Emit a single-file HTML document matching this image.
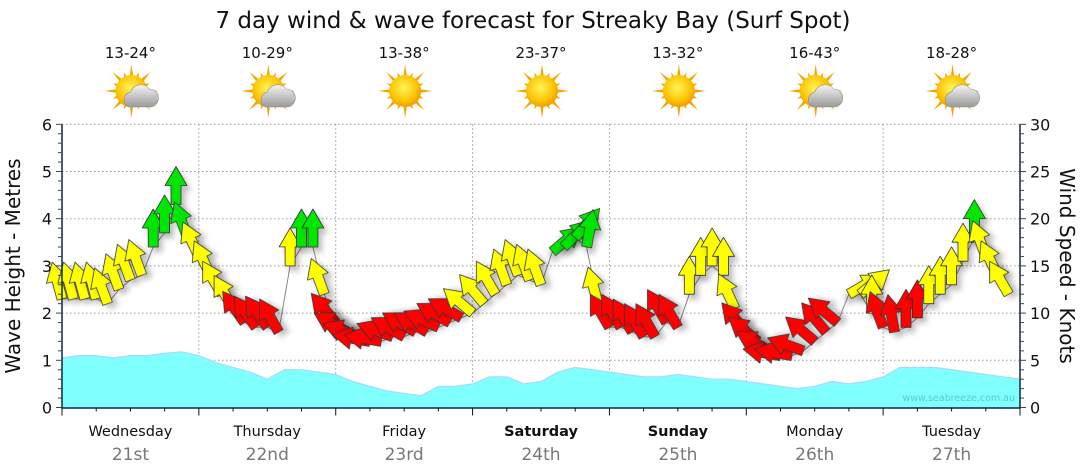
<!DOCTYPE html>
<html><head><meta charset="utf-8">
<style>
html,body{margin:0;padding:0;background:#fff;}
svg{display:block;font-family:"DejaVu Sans","Liberation Sans",sans-serif;}
</style></head>
<body>
<svg id="chart" width="1080" height="475" viewBox="0 0 1080 475" xmlns="http://www.w3.org/2000/svg">
<defs>
<filter id="sh" x="-50%" y="-50%" width="200%" height="200%"><feGaussianBlur in="SourceAlpha" stdDeviation="3"/><feOffset dx="4" dy="5"/><feComponentTransfer><feFuncA type="linear" slope="0.25"/></feComponentTransfer><feMerge><feMergeNode/><feMergeNode in="SourceGraphic"/></feMerge></filter>
<radialGradient id="sun" cx="0.45" cy="0.4" r="0.6"><stop offset="0" stop-color="#fff25a"/><stop offset="0.7" stop-color="#fbc400"/><stop offset="1" stop-color="#f39a00"/></radialGradient>
<linearGradient id="cloud" x1="0" y1="0" x2="0" y2="1"><stop offset="0" stop-color="#f4f4f4"/><stop offset="1" stop-color="#9a9a9a"/></linearGradient>
</defs>
<text x="533" y="28" text-anchor="middle" font-size="23" fill="#111">7 day wind &amp; wave forecast for Streaky Bay (Surf Spot)</text>
<g id="header"></g>
<g id="grid"></g>
<g id="wave"></g>
<text x="1015" y="401" text-anchor="end" font-size="9.5" fill="#5fc8d0">www.seabreeze.com.au</text>
<g id="wind"></g>
<g id="axes"></g>
<text transform="translate(20,266) rotate(-90)" text-anchor="middle" font-size="20" fill="#111">Wave Height - Metres</text>
<text transform="translate(1060,266) rotate(90)" text-anchor="middle" font-size="20" fill="#111">Wind Speed - Knots</text>
</svg>
<script>
const days = ["Wednesday","Thursday","Friday","Saturday","Sunday","Monday","Tuesday"];
const dates = ["21st","22nd","23rd","24th","25th","26th","27th"];
const boldDays = [false,false,false,true,true,false,false];
const temps = ["13-24°","10-29°","13-38°","23-37°","13-32°","16-43°","18-28°"];
const cloudy = [true,true,false,false,false,true,true];
const waveTicks = [0,1,2,3,4,5,6];
const windTicks = [0,5,10,15,20,25,30];
// 3-hourly wave heights (m), from Wed 00:00
const waveHeights = [1.05,1.1,1.1,1.05,1.1,1.1,1.15,1.18, 1.1,0.95,0.85,0.75,0.6,0.8,0.8,0.75, 0.7,0.55,0.45,0.35,0.3,0.25,0.45,0.45, 0.5,0.65,0.65,0.5,0.55,0.75,0.85,0.8, 0.75,0.7,0.65,0.65,0.7,0.65,0.6,0.6, 0.55,0.5,0.45,0.4,0.45,0.55,0.5,0.55, 0.65,0.85,0.85,0.85,0.8,0.75,0.7,0.65,0.6];
// 2-hourly wind speed (knots) and arrow direction (deg, 0 = up), from Wed 00:00
const windSpeed = [
 11.5,11.5,11.5,11.5,11,12.5,13.5,14,17,18.5,21.5,18,
 16,14,12,10.5,9,8.5,8.5,8,15,17,17,12,
 9,8,7.5,7,7,7.5,7.5,8,8,8.5,9,9.5,
 10,11,12,13,14,13.5,13,16.5,17,18,17,11,
 8.5,8.5,8,7.5,7.5,9,8.5,12,14,15,14,10.5,
 8,7,6,5.5,5.5,6,7,8,9,12,12,10,
 8.5,8,8.5,9.5,11,12,13,15.5,18,16,14,12];
const windDir = [
 -15,-15,-15,-15,-20,-20,-20,-20,0,0,0,-20,
 -25,-25,-30,-30,-35,-35,-35,-30,0,0,0,-20,
 -40,-60,-70,-80,-80,-70,-60,-60,-60,-65,-60,-60,
 -50,-40,-30,-20,-20,-20,-20,50,45,40,10,-15,
 -30,-30,-30,-30,-30,-30,-30,0,0,0,0,-25,
 -40,-50,-60,-80,-80,-70,-50,-40,-50,60,50,0,
 -20,-10,0,0,0,0,0,0,0,-20,-25,-30];

const NS="http://www.w3.org/2000/svg";
const X0=62,X1=1020,Y0=407.5,Y6=124.3;
const dayW=(X1-X0)/7;
const xH=h=>X0+h*dayW/24;
const yM=m=>Y0-m*(Y0-Y6)/6;
const yK=k=>yM(k/5);
function mk(tag,attrs,parent){const e=document.createElementNS(NS,tag);for(const k in attrs)e.setAttribute(k,attrs[k]);parent.appendChild(e);return e;}
const G=id=>document.getElementById(id);

// header
days.forEach((d,i)=>{
  const cx=X0+dayW*(i+0.5);
  const t=mk('text',{x:cx,y:58,'text-anchor':'middle','font-size':15,fill:'#111'},G('header'));t.textContent=temps[i];
  
  
  const g=mk('g',{transform:`translate(${cx+1},91)`},G('header'));
  
  
  for(let a=0;a<16;a++){const ang=a*Math.PI/8;const r=a%2?20:27;
    mk('polygon',{points:`${Math.cos(ang-0.13)*14},${Math.sin(ang-0.13)*14} ${Math.cos(ang)*r},${Math.sin(ang)*r} ${Math.cos(ang+0.13)*14},${Math.sin(ang+0.13)*14}`,fill:'#f5a400'},g);}
  mk('circle',{cx:0,cy:0,r:16,fill:'url(#sun)'},g);
  if(cloudy[i]){
    const c=mk('g',{fill:'url(#cloud)',stroke:'#8a8a8a','stroke-width':0.6},g);
    mk('path',{d:'M-3,16 a8,8 0 0 1 2,-15 a11,11 0 0 1 19,-3 a9,9 0 0 1 9,9 a9,9 0 0 1 -8,9 z'},c);
  }
});

// grid
for(let m=1;m<=6;m++){const l=mk('line',{x1:X0,x2:X1,y1:yM(m),y2:yM(m),stroke:'#999','stroke-dasharray':'1.5,2.5','stroke-width':1},G('grid'));
  
  }
for(let i=1;i<7;i++){const x=X0+dayW*i;const l=mk('line',{x1:x,x2:x,y1:Y6,y2:Y0,stroke:'#999','stroke-dasharray':'1.5,2.5','stroke-width':1},G('grid'));
  
  }

// wave area
let d=`M${X0},${Y0}`;
waveHeights.forEach((v,i)=>{d+=` L${xH(i*3).toFixed(1)},${yM(v).toFixed(1)}`;});
d+=` L${xH((waveHeights.length-1)*3).toFixed(1)},${Y0} Z`;
const wa=mk('path',{d:d,fill:'#80ffff',stroke:'#a8d8ff','stroke-width':1.2},G('wave'));



// wind
let pl='';
windSpeed.forEach((k,i)=>{pl+=`${xH(i*2).toFixed(1)},${yK(k).toFixed(1)} `;});
const line=mk('polyline',{points:pl,fill:'none',stroke:'#888','stroke-width':1},G('wind'));


windSpeed.forEach((k,i)=>{
  const col=k<10?'#ff0000':(k<16.5?'#ffff00':'#00e600');
  const x=xH(i*2),y=yK(k);
  const a=mk('polygon',{points:'-5,0 -5,-19 -11,-19 0,-38 11,-19 5,-19 5,0',fill:col,stroke:'#333','stroke-width':0.8,'stroke-linejoin':'round',filter:'url(#sh)',transform:`translate(${x.toFixed(1)},${y.toFixed(1)}) rotate(${windDir[i]})`},G('wind'));
  
  
});

// axes
const ax=G('axes');
mk('line',{x1:X0,x2:X0,y1:Y6,y2:Y0+1,stroke:'#0a2a44','stroke-width':1.5},ax);
mk('line',{x1:X1,x2:X1,y1:Y6,y2:Y0+1,stroke:'#0a2a44','stroke-width':1.5},ax);
mk('line',{x1:X0,x2:X1,y1:Y0+0.5,y2:Y0+0.5,stroke:'#0a2a44','stroke-width':1.5},ax);
for(let i=0;i<=30;i++){const y=yM(i/5);
  mk('line',{x1:X0-(i%5?4:6),x2:X0,y1:y,y2:y,stroke:'#444','stroke-width':1},ax);
  mk('line',{x1:X1,x2:X1+(i%5?4:6),y1:y,y2:y,stroke:'#444','stroke-width':1},ax);}
waveTicks.forEach(m=>{const t=mk('text',{x:X0-10,y:yM(m)+6,'text-anchor':'end','font-size':16,fill:'#111'},ax);t.textContent=m;
  
  });
windTicks.forEach(k=>{const t=mk('text',{x:X1+10,y:yK(k)+6,'font-size':16,fill:'#111'},ax);t.textContent=k;
  
  });
for(let h=0;h<=168;h+=6){const x=xH(h);mk('line',{x1:x,x2:x,y1:Y0,y2:Y0+(h%24?4:8),stroke:'#111','stroke-width':1},ax);}
days.forEach((dn,i)=>{const cx=X0+dayW*(i+0.5);
  const t=mk('text',{x:cx,y:436,'text-anchor':'middle','font-size':14.5,fill:'#111','font-weight':boldDays[i]?'bold':'normal'},ax);t.textContent=dn;
  
  
  const t2=mk('text',{x:cx,y:460,'text-anchor':'middle','font-size':17,fill:'#777'},ax);t2.textContent=dates[i];
  
  });
</script>
</body></html>
